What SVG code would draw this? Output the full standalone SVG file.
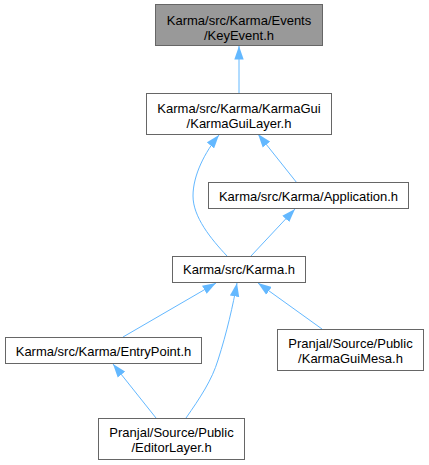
<svg xmlns="http://www.w3.org/2000/svg" width="429" height="465" viewBox="0 0 429 465">
<defs>
<marker id="ah" markerWidth="14" markerHeight="10" refX="13.5" refY="5" orient="auto" markerUnits="userSpaceOnUse">
<path d="M0,0.3 L13.5,5 L0,9.7 z" fill="#63b8ff"/>
</marker>
<style>
.box{fill:#ffffff;stroke:#666666;stroke-width:1}
.root{fill:#999999;stroke:#666666;stroke-width:1}
.lbl{font-family:"Liberation Sans",Arial,Helvetica,sans-serif;font-size:13px;fill:#000000;text-anchor:middle}
.edge{fill:none;stroke:#63b8ff;stroke-width:1;marker-end:url(#ah)}
</style>
</defs>
<rect width="429" height="465" fill="#ffffff"/>
<g id="edges">
<path class="edge" d="M239,93 L239,46"/>
<path class="edge" d="M297,183 L258,134"/>
<path class="edge" d="M227,256 C211,239 193,217 193,196 C193,175 205,152 219,135"/>
<path class="edge" d="M251,256 L295,209"/>
<path class="edge" d="M123,337 L216,283"/>
<path class="edge" d="M186,418 C200,398 212,380 218,360 C227,332 233,305 237,283"/>
<path class="edge" d="M322,329 L258,283"/>
<path class="edge" d="M156,418 L113,364"/>
</g>
<g id="node-keyevent">
<rect class="root" x="155.5" y="4.5" width="167" height="41"/>
<text class="lbl" x="239" y="24.5">Karma/src/Karma/Events</text>
<text class="lbl" x="239" y="39.5">/KeyEvent.h</text>
</g>
<g id="node-karmaguilayer">
<rect class="box" x="146.5" y="93.5" width="185" height="41"/>
<text class="lbl" x="239" y="113">Karma/src/Karma/KarmaGui</text>
<text class="lbl" x="239" y="128">/KarmaGuiLayer.h</text>
</g>
<g id="node-application">
<rect class="box" x="208.5" y="182.5" width="200" height="26"/>
<text class="lbl" x="308.5" y="200.5">Karma/src/Karma/Application.h</text>
</g>
<g id="node-karma">
<rect class="box" x="172.5" y="256.5" width="133" height="26"/>
<text class="lbl" x="239" y="274">Karma/src/Karma.h</text>
</g>
<g id="node-entrypoint">
<rect class="box" x="5.5" y="337.5" width="196" height="26"/>
<text class="lbl" x="103.5" y="355.5">Karma/src/Karma/EntryPoint.h</text>
</g>
<g id="node-karmaguimesa">
<rect class="box" x="277.5" y="329.5" width="146" height="41"/>
<text class="lbl" x="350.5" y="348">Pranjal/Source/Public</text>
<text class="lbl" x="350.5" y="363">/KarmaGuiMesa.h</text>
</g>
<g id="node-editorlayer">
<rect class="box" x="98.5" y="418.5" width="146" height="41"/>
<text class="lbl" x="171.5" y="437">Pranjal/Source/Public</text>
<text class="lbl" x="171.5" y="452">/EditorLayer.h</text>
</g>
</svg>
